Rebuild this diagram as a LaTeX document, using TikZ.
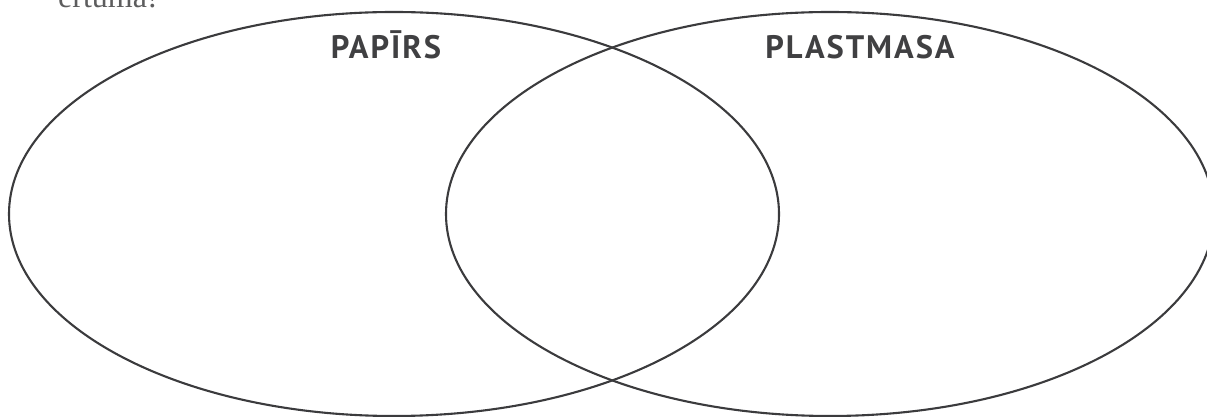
\documentclass[tikz,border=0pt]{standalone}
\usepackage{fontspec}
\setmainfont{Liberation Serif}
\newfontfamily\labelfont[LetterSpace=6]{PT Sans}
\usetikzlibrary{shapes.geometric}
\definecolor{ink}{HTML}{3B3B3D}
\definecolor{txt}{HTML}{404042}
\begin{document}
\begin{tikzpicture}[x=1pt,y=1pt,
  vennset/.style={ellipse, draw=ink, line width=2.1pt, inner sep=0pt},
  setlabel/.style={font=\labelfont\bfseries\fontsize{32.5}{38}\selectfont, text=txt, anchor=base, inner sep=0pt},
  toptext/.style={font=\fontsize{32}{38}\selectfont, text=txt!85, anchor=base west, inner sep=0pt}]
\useasboundingbox (0,0) rectangle (1207,417);
\clip (0,0) rectangle (1207,417);
\node[vennset, minimum width=770pt, minimum height=404pt] (pap) at (394,203) {};
\node[vennset, minimum width=768pt, minimum height=404pt] (pla) at (830,203) {};
\node[setlabel] (lpap) at (386,358) {PAPĪRS};
\node[setlabel] (lpla) at (860,358) {PLASTMASA};
\node[toptext] (top) at (58,409) {ērtuma!};
\end{tikzpicture}
\end{document}
